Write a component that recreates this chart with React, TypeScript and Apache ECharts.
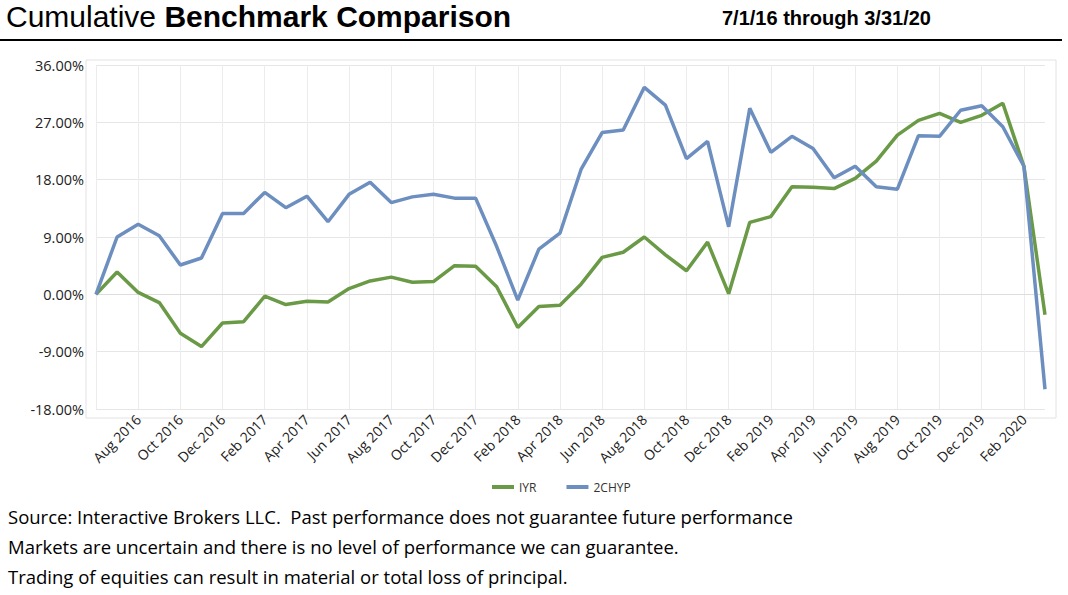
import React, { useEffect, useRef } from "react";
import * as echarts from "echarts";

const months = ["Jan", "Feb", "Mar", "Apr", "May", "Jun", "Jul", "Aug", "Sep", "Oct", "Nov", "Dec"];
const categories: string[] = [];
for (let y = 2016, m = 5; categories.length < 46; ) {
  categories.push(`${months[m]} ${y}`);
  m++;
  if (m > 11) { m = 0; y++; }
}

const iyr = [0, 3.5, 0.3, -1.3, -6.1, -8.2, -4.5, -4.3, -0.3, -1.6, -1.1, -1.2, 0.9, 2.1, 2.7, 1.9, 2.0, 4.5, 4.4, 1.2, -5.2, -1.9, -1.7,
  1.6, 5.8, 6.6, 9.0, 6.2, 3.7, 8.2, 0.1, 11.3, 12.2, 16.9, 16.8, 16.6, 18.2, 20.9, 25.0, 27.3, 28.4, 27.0, 28.1, 30.0, 20.1, -3.2];
const chyp = [0, 9.0, 11.0, 9.2, 4.6, 5.7, 12.7, 12.7, 16.0, 13.6, 15.4, 11.4, 15.7, 17.6, 14.4, 15.3, 15.7, 15.1, 15.1, 7.5, -0.9, 7.1, 9.6,
  19.6, 25.4, 25.8, 32.5, 29.7, 21.3, 24.0, 10.6, 29.2, 22.3, 24.8, 22.9, 18.3, 20.1, 16.9, 16.5, 24.9, 24.8, 28.9, 29.6, 26.3, 20.1, -14.9];

const footnotes = [
  "Source: Interactive Brokers LLC.  Past performance does not guarantee future performance",
  "Markets are uncertain and there is no level of performance we can guarantee.",
  "Trading of equities can result in material or total loss of principal.",
];

export default function App() {
  const ref = useRef<HTMLDivElement>(null);
  useEffect(() => {
    const chart = echarts.init(ref.current!, null, { renderer: "svg" });
    const even = (i: number) => i % 2 === 0;
    chart.setOption({
      animation: false,
      backgroundColor: "#fff",
      grid: { left: 96, right: 23, top: 65, bottom: 186, show: false },
      legend: {
        data: ["IYR", "2CHYP"],
        top: 481,
        left: 492,
        itemWidth: 22,
        itemHeight: 4,
        icon: "rect",
        itemGap: 30,
        padding: 0,
        textStyle: { fontFamily: "Open Sans", fontSize: 12, color: "#333" },
      },
      xAxis: {
        type: "category",
        data: categories,
        boundaryGap: false,
        axisLine: { lineStyle: { color: "#ddd" } },
        axisTick: { show: false },
        axisLabel: {
          interval: (i: number) => even(i) && i > 0,
          rotate: 45,
          fontFamily: "Open Sans",
          fontSize: 14,
          color: "#222",
          margin: 8,
        },
        splitLine: { show: true, interval: (i: number) => even(i), lineStyle: { color: "#ececec" } },
      },
      yAxis: {
        type: "value",
        min: -18,
        max: 36,
        interval: 9,
        axisLabel: {
          formatter: (v: number) => v.toFixed(2) + "%",
          fontFamily: "Open Sans",
          fontSize: 14.5,
          color: "#222",
          margin: 12,
        },
        axisLine: { show: false },
        splitLine: { lineStyle: { color: "#e6e6e6" } },
      },
      series: [
        { name: "IYR", type: "line", data: iyr, showSymbol: false, lineStyle: { width: 3.5, color: "#6a9a46" }, itemStyle: { color: "#6a9a46" } },
        { name: "2CHYP", type: "line", data: chyp, showSymbol: false, lineStyle: { width: 3.5, color: "#6d8fc0" }, itemStyle: { color: "#6d8fc0" } },
      ],
      graphic: [
        { type: "rect", shape: { x: 86, y: 60, width: 970, height: 358 }, style: { fill: "none", stroke: "#e2e2e2", lineWidth: 1 }, silent: true },
        {
          type: "text", left: 6, top: 1,
          style: {
            text: "{n|Cumulative }{b|Benchmark Comparison}",
            rich: {
              n: { fontFamily: "Liberation Sans Narrow, Liberation Sans", fontSize: 30, fill: "#000" },
              b: { fontFamily: "Liberation Sans Narrow, Liberation Sans", fontSize: 30, fontWeight: "bold", fill: "#000" },
            },
          },
        },
        { type: "text", left: 722, top: 8, style: { text: "7/1/16 through 3/31/20", fontFamily: "Liberation Sans Narrow, Liberation Sans", fontWeight: "bold", fontSize: 20, fill: "#000" } },
        { type: "line", shape: { x1: 0, y1: 40, x2: 1062, y2: 40 }, style: { stroke: "#000", lineWidth: 2 } },
        ...footnotes.map((t, i) => ({
          type: "text", left: 8, top: 507 + i * 30,
          style: { text: t, fontFamily: "Open Sans", fontSize: 18.5, fill: "#000" },
        })),
      ],
    });
    return () => chart.dispose();
  }, []);
  return <div ref={ref} style={{ position: "absolute", left: 0, top: 0, width: 1068, height: 595 }} />;
}
